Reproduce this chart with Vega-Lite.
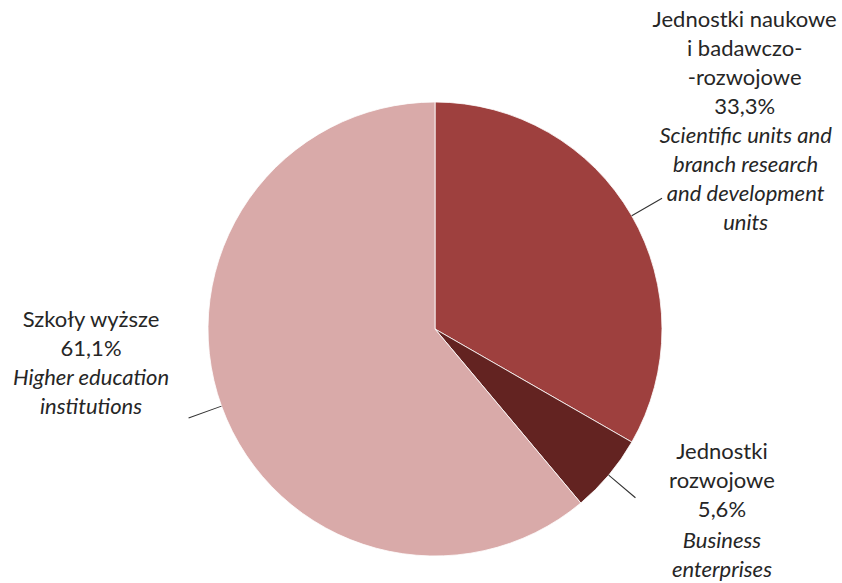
{
  "$schema": "https://vega.github.io/schema/vega-lite/v6.json",
  "autosize": {"type": "none"},
  "width": 814,
  "height": 508,
  "padding": {"left": 28, "top": 75, "right": 0, "bottom": 0},
  "background": "white",
  "config": {"view": {"stroke": null}},
  "data": {
    "values": [
      {"key": "A", "order": 1, "value": 33.3, "pl": ["Jednostki naukowe", "i badawczo-", "-rozwojowe", "33,3%"], "en": ["Scientific units and", "branch research", "and development", "units"]},
      {"key": "B", "order": 2, "value": 5.6, "pl": ["Jednostki", "rozwojowe", "5,6%"], "en": ["Business", "enterprises"]},
      {"key": "C", "order": 3, "value": 61.1, "pl": ["Szkoły wyższe", "61,1%"], "en": ["Higher education", "institutions"]}
    ]
  },
  "layer": [
    {
      "mark": {"type": "arc", "outerRadius": 227, "stroke": "white", "strokeWidth": 0.8},
      "encoding": {
        "theta": {"field": "value", "type": "quantitative", "stack": true},
        "order": {"field": "order", "type": "quantitative"},
        "color": {"field": "key", "type": "nominal", "legend": null,
          "scale": {"domain": ["A", "B", "C"], "range": ["#9E403E", "#632321", "#D9AAA9"]}}
      }
    },
    {
      "transform": [
        {"window": [{"op": "sum", "field": "value", "as": "cum"}], "sort": [{"field": "order"}], "frame": [null, 0]},
        {"calculate": "datum.cum - datum.value / 2", "as": "mid"},
        {"calculate": "datum.mid + 0.07", "as": "mid2"}
      ],
      "mark": {"type": "arc", "innerRadius": 227, "outerRadius": 262, "fill": "#333333"},
      "encoding": {
        "theta": {"field": "mid", "type": "quantitative", "stack": null},
        "theta2": {"field": "mid2"}
      }
    },
    {
      "mark": {"type": "text", "radius": 300, "font": "Lato", "fontSize": 22, "lineHeight": 29, "fill": "#262626", "align": "center", "baseline": "middle",
        "dx": {"expr": "datum.key == 'A' ? 50 : datum.key == 'B' ? 57 : -62"},
        "dy": {"expr": "datum.key == 'A' ? -159 : datum.key == 'B' ? -70 : -112"}},
      "encoding": {
        "theta": {"field": "value", "type": "quantitative", "stack": true},
        "order": {"field": "order", "type": "quantitative"},
        "detail": {"field": "key", "type": "nominal"},
        "text": {"field": "pl", "type": "nominal"}
      }
    },
    {
      "mark": {"type": "text", "radius": 300, "font": "Lato", "fontSize": 22, "fontStyle": "italic", "lineHeight": 29, "fill": "#262626", "align": "center", "baseline": "middle",
        "dx": {"expr": "datum.key == 'A' ? 51 : datum.key == 'B' ? 57 : -62"},
        "dy": {"expr": "datum.key == 'A' ? -43 : datum.key == 'B' ? 19 : -54"}},
      "encoding": {
        "theta": {"field": "value", "type": "quantitative", "stack": true},
        "order": {"field": "order", "type": "quantitative"},
        "detail": {"field": "key", "type": "nominal"},
        "text": {"field": "en", "type": "nominal"}
      }
    }
  ]
}
